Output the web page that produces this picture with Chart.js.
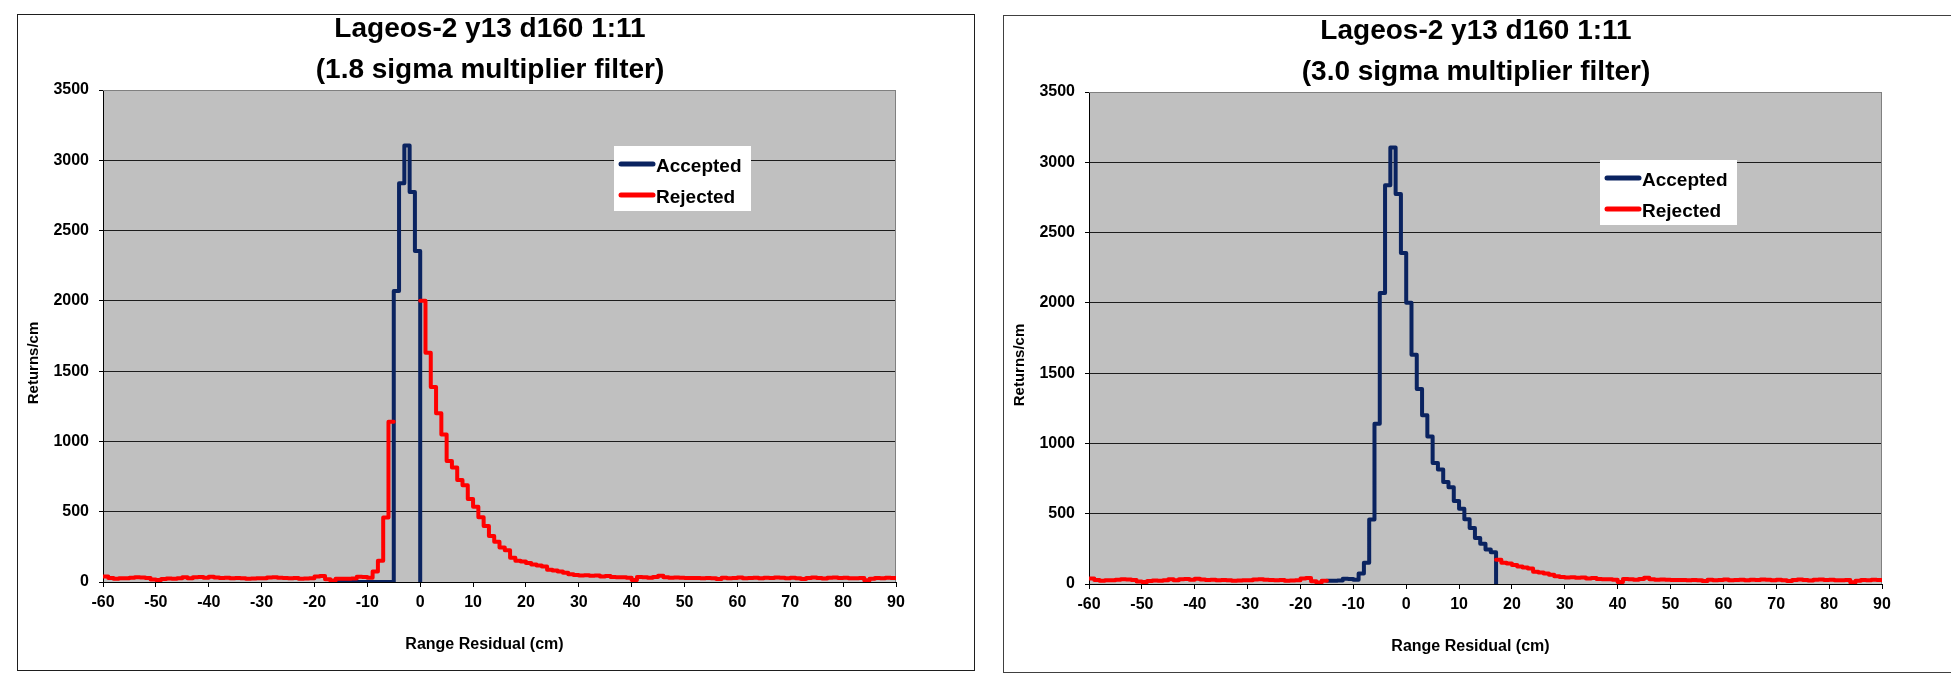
<!DOCTYPE html>
<html>
<head>
<meta charset="utf-8">
<title>Lageos-2 y13 d160 1:11 range residual histograms</title>
<script src="https://cdn.jsdelivr.net/npm/chart.js@4/dist/chart.umd.min.js"></script>
<style>
  html, body { margin: 0; padding: 0; background: #fff; width: 1951px; height: 685px; overflow: hidden; }
  .panel { position: absolute; width: 957px; height: 656px; }
  .panel canvas { position: absolute; left: 0; top: 0; }
  .frame { position: absolute; box-sizing: border-box; pointer-events: none; }
</style>
</head>
<body>
<div class="panel" style="left:17px;top:14px"><canvas id="sigma18" width="957" height="656"></canvas></div>
<div class="frame" style="left:17px;top:14px;width:958px;height:657px;border:1px solid #1e1e1e"></div>
<div class="panel" style="left:1003px;top:16px"><canvas id="sigma30" width="957" height="656"></canvas></div>
<div class="frame" style="left:1003px;top:15px;width:958px;height:658px;border:1px solid #404040"></div>
<script>
// ---- data -------------------------------------------------------------
const BIN_FIRST_EDGE = -60;   // cm, left edge of the first bin
const BIN_WIDTH = 1;          // cm

// Returns per 1 cm bin, bins from -60 cm up to 90 cm
const returnsPerCm = [
  40, 28, 24, 26, 27, 30, 34, 32, 28, 18,     // -60 .. -51
  14, 22, 25, 24, 27, 34, 26, 33, 35, 30,     // -50 .. -41
  38, 32, 28, 30, 27, 28, 26, 24, 25, 27,     // -40 .. -31
  26, 32, 34, 30, 28, 26, 29, 24, 25, 27,     // -30 .. -21
  40, 42, 20, 10, 24, 23, 24, 25, 38, 36,     // -20 .. -11
  30, 75, 152, 458, 1140, 2070, 2837, 3105, 2775, 2355,   // -10 .. -1
  2000, 1630, 1387, 1200, 1050, 860, 815, 725, 688, 590,  //   0 .. 9
  535, 460, 398, 327, 287, 246, 226, 172, 152, 145,       //  10 .. 19
  135, 125, 118, 110, 88, 82, 75, 65, 56, 50,             //  20 .. 29
  46, 48, 44, 46, 40, 42, 36, 34, 33, 30,                 //  30 .. 39
  14, 36, 34, 30, 36, 44, 34, 30, 32, 30,                 //  40 .. 49
  28, 28, 29, 27, 28, 26, 22, 30, 27, 28,                 //  50 .. 59
  32, 26, 28, 30, 27, 30, 28, 32, 30, 26,                 //  60 .. 69
  30, 27, 22, 28, 32, 28, 25, 30, 32, 28,                 //  70 .. 79
  30, 27, 26, 28, 12, 24, 28, 26, 30, 28                  //  80 .. 89
];

// Accepted span of each filter, [low edge, high edge) in cm
const accepted18Window = [-5, 0];
const accepted30Window = [-15, 17];
// Span over which the 1.8 sigma run lists zero accepted returns
const accepted18ZeroSpan = [-16, -5];

const title18 = ['Lageos-2 y13 d160 1:11', '(1.8 sigma multiplier filter)'];
const title30 = ['Lageos-2 y13 d160 1:11', '(3.0 sigma multiplier filter)'];
const seriesNames = ['Accepted', 'Rejected'];
const xAxisTitle = 'Range Residual (cm)';
const yAxisTitle = 'Returns/cm';

const xTickValues = [-60, -50, -40, -30, -20, -10, 0, 10, 20, 30, 40, 50, 60, 70, 80, 90];
const yTickValues = [0, 500, 1000, 1500, 2000, 2500, 3000, 3500];

// ---- helpers ----------------------------------------------------------
const FONT = "'Liberation Sans', Arial, Helvetica, sans-serif";
const ACCEPTED_COLOR = '#0A2360';
const REJECTED_COLOR = '#FF0000';

// Split the histogram into accepted / rejected per-bin arrays (null = not in series)
function splitByWindow(win, zeroSpan) {
  const accepted = [], rejected = [];
  returnsPerCm.forEach((n, i) => {
    const left = BIN_FIRST_EDGE + i * BIN_WIDTH;
    const inWin = left >= win[0] && left < win[1];
    const inZero = !!zeroSpan && left >= zeroSpan[0] && left < zeroSpan[1];
    accepted.push(inWin ? n : (inZero ? 0 : null));
    rejected.push(inWin ? null : n);
  });
  return { accepted, rejected };
}

// One vertex on each bin's left edge; each run of bins is closed on its right edge.
function stepVertices(values, dropToZero) {
  const pts = [];
  values.forEach((v, i) => {
    if (v === null) return;
    const left = BIN_FIRST_EDGE + i * BIN_WIDTH;
    pts.push({ x: left, y: v });
    const next = values[i + 1];
    if (next === null || next === undefined) {
      pts.push({ x: left + BIN_WIDTH, y: dropToZero ? 0 : v });
      pts.push({ x: left + BIN_WIDTH, y: null });
    }
  });
  return pts;
}

// Silver plot area with grey top/right edge
const plotFrame = {
  id: 'plotFrame',
  beforeDraw(chart) {
    const { ctx, chartArea: a } = chart;
    ctx.save();
    ctx.fillStyle = '#C0C0C0';
    ctx.fillRect(a.left, a.top, a.right - a.left, a.bottom - a.top);
    ctx.restore();
  },
  beforeDatasetsDraw(chart) {
    const { ctx, chartArea: a } = chart;
    ctx.save();
    ctx.strokeStyle = '#808080';
    ctx.lineWidth = 1;
    ctx.beginPath();
    ctx.moveTo(a.left, a.top + 0.5);
    ctx.lineTo(a.right - 0.5, a.top + 0.5);
    ctx.lineTo(a.right - 0.5, a.bottom);
    ctx.stroke();
    ctx.restore();
  }
};

// Chart title, axis titles and the boxed legend
const captions = {
  id: 'captions',
  afterDraw(chart, args, opts) {
    const { ctx, chartArea: a } = chart;
    ctx.save();
    ctx.fillStyle = '#000';
    ctx.textBaseline = 'alphabetic';

    ctx.textAlign = 'center';
    ctx.font = `bold 28px ${FONT}`;
    opts.title.forEach((line, i) => ctx.fillText(line, opts.titleX, a.top - 53 + i * 41));

    ctx.font = `bold 16px ${FONT}`;
    ctx.fillText(xAxisTitle, (a.left + a.right) / 2 - 15, a.bottom + 67);

    ctx.save();
    ctx.translate(21, a.top + 273);
    ctx.rotate(-Math.PI / 2);
    ctx.font = `bold 15px ${FONT}`;
    ctx.fillText(yAxisTitle, 0, 0);
    ctx.restore();

    // legend
    const bx = a.left + opts.legend.dx, by = a.top + opts.legend.dy;
    ctx.fillStyle = '#fff';
    ctx.fillRect(bx, by, 137, 65);
    ctx.textAlign = 'left';
    ctx.font = `bold 19px ${FONT}`;
    chart.data.datasets
      .slice()
      .sort((p, q) => p.legendRank - q.legendRank)
      .forEach((ds, i) => {
        const ly = by + 18 + i * 31;
        ctx.strokeStyle = ds.borderColor;
        ctx.lineWidth = 5;
        ctx.lineCap = 'round';
        ctx.beginPath();
        ctx.moveTo(bx + 7, ly);
        ctx.lineTo(bx + 39, ly);
        ctx.stroke();
        ctx.fillStyle = '#000';
        ctx.fillText(ds.label, bx + 42, ly + 7.5);
      });
    ctx.restore();
  }
};

function makeChart(canvasId, title, win, zeroSpan, legendPos) {
  const split = splitByWindow(win, zeroSpan);
  return new Chart(document.getElementById(canvasId), {
    type: 'line',
    data: {
      datasets: [
        {
          label: seriesNames[0],
          legendRank: 0,
          data: stepVertices(split.accepted, true),
          borderColor: ACCEPTED_COLOR,
          order: 1
        },
        {
          label: seriesNames[1],
          legendRank: 1,
          data: stepVertices(split.rejected, false),
          borderColor: REJECTED_COLOR,
          order: 0
        }
      ]
    },
    options: {
      responsive: false,
      animation: false,
      events: [],
      layout: { padding: { left: 0, top: 76, right: 78, bottom: 0 } },
      elements: {
        point: { radius: 0 },
        line: { borderWidth: 4, stepped: 'before', tension: 0, fill: false,
                borderJoinStyle: 'round', borderCapStyle: 'round' }
      },
      scales: {
        x: {
          type: 'linear',
          min: -60, max: 90,
          afterFit(s) { s.height = 88; },
          afterBuildTicks(s) { s.ticks = xTickValues.map(v => ({ value: v })); },
          ticks: { font: { family: FONT, size: 16, weight: 'bold' }, color: '#000',
                   padding: 6, maxRotation: 0, autoSkip: false,
                   callback: v => String(v) },
          grid: { drawOnChartArea: false, drawTicks: true, tickLength: 5,
                  tickColor: '#000', color: '#000' },
          border: { color: '#000', width: 1 }
        },
        y: {
          min: 0, max: 3500,
          afterFit(s) { s.width = 86; },
          afterBuildTicks(s) { s.ticks = yTickValues.map(v => ({ value: v })); },
          ticks: { font: { family: FONT, size: 16, weight: 'bold' }, color: '#000',
                   padding: 10, autoSkip: false,
                   callback: v => String(v) },
          grid: {
            color: c => (c.tick && c.tick.value === 3500) ? '#808080' : '#1c1c1c',
            lineWidth: 1, drawTicks: true, tickLength: 4, tickColor: '#000'
          },
          border: { color: '#000', width: 1 }
        }
      },
      plugins: {
        legend: { display: false },
        tooltip: { enabled: false },
        title: { display: false },
        captions: { title, titleX: 473, legend: legendPos }
      }
    },
    plugins: [plotFrame, captions]
  });
}

makeChart('sigma18', title18, accepted18Window, accepted18ZeroSpan, { dx: 511, dy: 56 });
makeChart('sigma30', title30, accepted30Window, null, { dx: 511, dy: 68 });
</script>
</body>
</html>
